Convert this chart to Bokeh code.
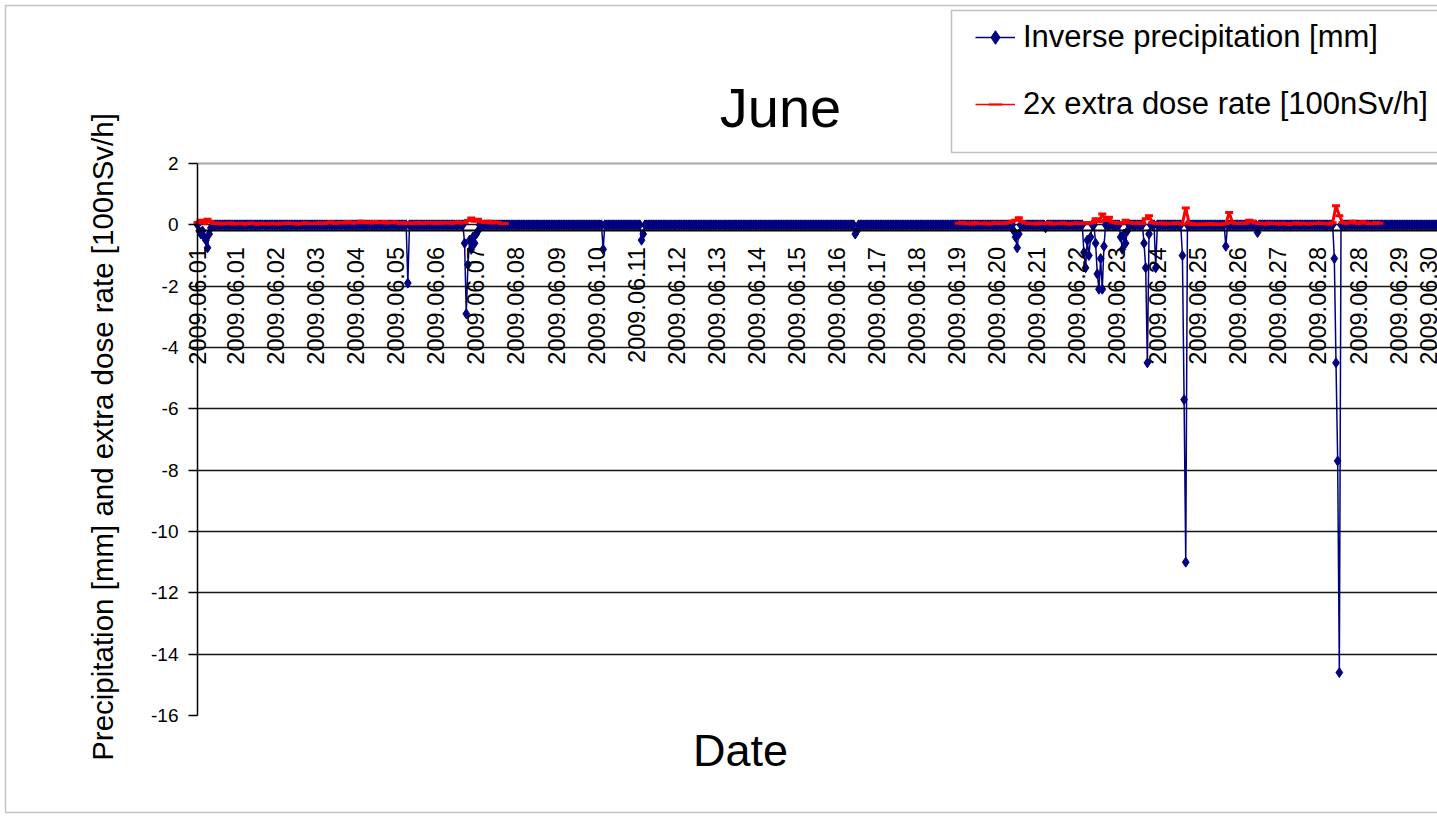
import math

from bokeh.embed import file_html
from bokeh.models import (BoxAnnotation, ColumnDataSource, FixedTicker, Grid, Label,
                          Legend, LegendItem, LinearAxis, Range1d)
from bokeh.plotting import figure
from bokeh.resources import INLINE

FONT = "Liberation Sans"
NAVY = "#000080"
RED = "#ff0000"

# ---------------------------------------------------------------- data
# x positions are in days from 2009.06.01 00:00 along the category axis
tick_days = [0.00, 0.95, 1.95, 2.95, 3.95, 4.95, 5.95, 6.95, 7.95, 8.95, 9.95,
             10.95, 11.95, 12.95, 13.95, 14.95, 15.95, 16.95, 17.95, 18.95, 19.95,
             20.95, 21.95, 22.95, 23.95, 24.95, 25.95, 26.95, 27.95, 28.97, 29.97,
             30.94]
tick_labels = ["2009.06.01", "2009.06.01", "2009.06.02", "2009.06.03", "2009.06.04",
               "2009.06.05", "2009.06.06", "2009.06.07", "2009.06.08", "2009.06.09",
               "2009.06.10", "2009.06.11", "2009.06.12", "2009.06.13", "2009.06.14",
               "2009.06.15", "2009.06.16", "2009.06.17", "2009.06.18", "2009.06.19",
               "2009.06.20", "2009.06.21", "2009.06.22", "2009.06.23", "2009.06.24",
               "2009.06.25", "2009.06.26", "2009.06.27", "2009.06.28", "2009.06.28",
               "2009.06.29", "2009.06.30"]

y_ticks = [2, 0, -2, -4, -6, -8, -10, -12, -14, -16]
grid_ticks = [0, -2, -4, -6, -8, -10, -12, -14]

# hourly precipitation (sign inverted); every hour not listed below is 0 mm
n_hours = 744
rain_hours = [1, 2, 3, 4, 5, 6, 7, 8,
              126,
              160, 161, 162, 163, 164, 165, 166, 167, 168,
              243, 266, 267, 394, 395,
              489, 490, 491, 492, 508,
              531, 532, 533, 534, 535,
              538, 539, 540, 541, 542, 543,
              553, 554, 555, 556, 557,
              567, 568, 569, 570, 574,
              590, 591, 592,
              616, 635,
              681, 682, 683, 684]
rain_values = [-0.2, -0.3, -0.2, -0.4, -0.5, -0.75, -0.3, -0.1,
               -1.9,
               -0.6, -2.9, -1.3, -0.5, -0.8, -0.4, -0.6, -0.3, -0.2,
               -0.8, -0.5, -0.3, -0.3, -0.2,
               -0.2, -0.4, -0.75, -0.3, -0.1,
               -0.9, -1.4, -0.5, -1.0, -0.4,
               -0.6, -1.6, -2.1, -1.1, -2.1, -0.7,
               -0.4, -0.8, -0.3, -0.6, -0.2,
               -0.6, -1.4, -4.5, -0.3, -1.4,
               -1.0, -5.7, -11.0,
               -0.7, -0.25,
               -1.1, -4.5, -7.7, -14.6]

# 2x extra dose rate, one reading every 2 hours, two recording periods
dose_step_days = 1 / 12
dose_start_1 = 0.0
dose_1 = [0.08, 0.15, 0.05, 0.18, 0.10, 0.04, 0.06, 0.03, 0.05, 0.04, 0.06, 0.03,
          0.04, 0.05, 0.03, 0.04, 0.06, 0.04, 0.03, 0.05, 0.04, 0.03, 0.05, 0.04,
          0.03, 0.05, 0.04, 0.06, 0.04, 0.05, 0.03, 0.04, 0.06, 0.05, 0.04, 0.05,
          0.05, 0.06, 0.04, 0.07, 0.09, 0.05, 0.06, 0.08, 0.06, 0.10, 0.07, 0.06,
          0.08, 0.12, 0.07, 0.09, 0.06, 0.11, 0.08, 0.07, 0.10, 0.06, 0.08, 0.09,
          0.06, 0.05, 0.07, 0.04, 0.06, 0.05, 0.07, 0.06, 0.05, 0.08, 0.06, 0.07,
          0.05, 0.07, 0.06, 0.08, 0.05, 0.07, 0.09, 0.06, 0.08, 0.14, 0.22, 0.12,
          0.18, 0.10, 0.08, 0.12, 0.06, 0.09, 0.07, 0.05, 0.04]
dose_start_2 = 19.0
dose_2 = [0.05, 0.08, 0.04, 0.06, 0.03, 0.07, 0.05, 0.04, 0.06, 0.03, 0.05, 0.07,
          0.04, 0.06, 0.05, 0.08, 0.12, 0.15, 0.23, 0.10, 0.06, 0.04, 0.05, 0.03,
          0.06, 0.04, 0.05, 0.07, 0.03, 0.05, 0.04, 0.06, 0.05, 0.03, 0.04, 0.06,
          0.05, 0.04, 0.07, 0.05, 0.08, 0.20, 0.10, 0.35, 0.14, 0.25, 0.09, 0.06,
          0.07, 0.05, 0.15, 0.08, 0.06, 0.05, 0.07, 0.04, 0.20, 0.30, 0.08, 0.05,
          0.04, 0.06, 0.03, 0.05, 0.04, 0.06, 0.05, 0.03, 0.55, 0.06, 0.02, 0.03,
          0.01, 0.03, 0.02, 0.04, 0.02, 0.03, 0.01, 0.03, 0.04, 0.40, 0.08, 0.05,
          0.04, 0.06, 0.05, 0.15, 0.12, 0.06, 0.04, 0.05, 0.03, 0.06, 0.04, 0.05,
          0.03, 0.05, 0.04, 0.02, 0.04, 0.06, 0.03, 0.05, 0.04, 0.03, 0.05, 0.04,
          0.06, 0.04, 0.05, 0.03, 0.07, 0.62, 0.30, 0.08, 0.05, 0.07, 0.12, 0.06,
          0.05, 0.10, 0.06, 0.04, 0.05, 0.07, 0.05]

# ---------------------------------------------------------------- series
precip = [0.0] * n_hours
for h, v in zip(rain_hours, rain_values):
    precip[h] = v
rain_src = ColumnDataSource(dict(x=[h / 24 for h in range(n_hours)], y=precip))

dose_x = [dose_start_1 + i * dose_step_days for i in range(len(dose_1))] + [float("nan")] + \
         [dose_start_2 + i * dose_step_days for i in range(len(dose_2))]
dose_y = dose_1 + [float("nan")] + dose_2
dose_src = ColumnDataSource(dict(x=dose_x, y=dose_y))

# ---------------------------------------------------------------- geometry
W, H = 1437, 817
PLOT_LEFT, PLOT_TOP, PLOT_BOTTOM = 197, 163, 715     # plot area in page pixels
X_END = 30.95                                         # days shown up to the right edge
Y_TOP, Y_BOTTOM = 2, -16

px_per_day = (W - PLOT_LEFT) / X_END
px_per_unit = (PLOT_BOTTOM - PLOT_TOP) / (Y_TOP - Y_BOTTOM)
x_start = -PLOT_LEFT / px_per_day
y_end = Y_TOP + PLOT_TOP / px_per_unit
y_start = Y_BOTTOM - (H - PLOT_BOTTOM) / px_per_unit


def sy(page_y):
    """screen-unit y (measured up from the bottom edge) for a page pixel row"""
    return H - page_y


# the frame fills the whole page so titles, legend and border can sit anywhere
p = figure(width=W, height=H, output_backend="svg", toolbar_location=None,
           x_range=Range1d(x_start, X_END), y_range=Range1d(y_start, y_end),
           x_axis_type=None, y_axis_type=None,
           min_border_left=0, min_border_right=0, min_border_top=0, min_border_bottom=0,
           background_fill_color="white", border_fill_color="white",
           outline_line_color=None)

grid_style = dict(grid_line_color="#151515", grid_line_width=1.5)
top_style = dict(grid_line_color="#a8a8a8", grid_line_width=2)
if "cross_bounds" in Grid.properties():
    p.add_layout(Grid(dimension=1, ticker=FixedTicker(ticks=grid_ticks),
                      cross_bounds=(0, X_END), **grid_style))
    p.add_layout(Grid(dimension=1, ticker=FixedTicker(ticks=[Y_TOP]),
                      cross_bounds=(0, X_END), **top_style))
else:
    p.segment(x0=0, x1=X_END, y0=grid_ticks, y1=grid_ticks,
              line_color=grid_style["grid_line_color"], line_width=1.5)
    p.segment(x0=0, x1=X_END, y0=Y_TOP, y1=Y_TOP,
              line_color=top_style["grid_line_color"], line_width=2)

p.line("x", "y", source=rain_src, line_color=NAVY, line_width=1.5)
p.scatter("x", "y", source=rain_src, marker="diamond", size=10,
          fill_color=NAVY, line_color=NAVY)
p.line("x", "y", source=dose_src, line_color=RED, line_width=3)
p.scatter("x", "y", source=dose_src, marker="dash", size=8, line_color=RED, line_width=3)

# legend swatches with the thinner legend styling; their single point is
# undefined, so they draw nothing inside the plot area
swatch = ColumnDataSource(dict(x=[float("nan")], y=[float("nan")]))
leg_bl = p.line("x", "y", source=swatch, line_color=NAVY, line_width=1.3)
leg_bm = p.scatter("x", "y", source=swatch, marker="diamond", size=8,
                   fill_color=NAVY, line_color=NAVY)
leg_rl = p.line("x", "y", source=swatch, line_color=RED, line_width=1.3)
leg_rm = p.scatter("x", "y", source=swatch, marker="dash", size=5,
                   line_color=RED, line_width=2)

yaxis = LinearAxis(ticker=FixedTicker(ticks=y_ticks), fixed_location=0,
                   bounds=(Y_BOTTOM, Y_TOP),
                   axis_line_color="black", axis_line_width=1.5,
                   major_tick_out=9, major_tick_in=0,
                   major_tick_line_color="black", major_tick_line_width=1.5,
                   minor_tick_out=0, minor_tick_in=0,
                   major_label_standoff=10,
                   major_label_text_font=FONT, major_label_text_font_size="19px",
                   major_label_text_color="black",
                   major_label_overrides={t: str(t) for t in y_ticks})
p.add_layout(yaxis, "left")

xaxis = LinearAxis(ticker=FixedTicker(ticks=tick_days), fixed_location=-0.17,
                   bounds=(0, X_END),
                   axis_line_color="black", axis_line_width=2,
                   major_tick_out=0, major_tick_in=0, minor_tick_out=0, minor_tick_in=0,
                   major_label_orientation=math.pi / 2, major_label_standoff=17,
                   major_label_text_font=FONT, major_label_text_font_size="23.5px",
                   major_label_text_color="black",
                   major_label_overrides=dict(zip(tick_days, tick_labels)))
p.add_layout(xaxis, "below")

# chart border and legend box
box_units = dict(left_units="screen", right_units="screen",
                 top_units="screen", bottom_units="screen")
p.add_layout(BoxAnnotation(left=5, right=W + 100, top=sy(5), bottom=sy(812), **box_units,
                           fill_color=None, line_color="#404040", line_width=1.5))
p.add_layout(BoxAnnotation(left=951, right=W + 100, top=sy(10), bottom=sy(152), **box_units,
                           fill_color=None, line_color="#303030", line_width=1.5))

legend = Legend(items=[LegendItem(label="Inverse precipitation [mm]", renderers=[leg_bl, leg_bm]),
                       LegendItem(label="2x extra dose rate [100nSv/h]", renderers=[leg_rl, leg_rm])],
                location=(975, sy(122)), orientation="vertical", padding=0, margin=0,
                spacing=31, glyph_width=40, glyph_height=34, label_height=34,
                label_standoff=8, label_text_font=FONT, label_text_font_size="31px",
                label_text_color="black", border_line_alpha=0, background_fill_alpha=0)
p.add_layout(legend)

p.add_layout(Label(x=780, y=sy(107), x_units="screen", y_units="screen", text="June",
                   text_align="center", text_baseline="alphabetic",
                   text_font=FONT, text_font_size="56px", text_color="black"))
p.add_layout(Label(x=740, y=sy(750), x_units="screen", y_units="screen", text="Date",
                   text_align="center", text_baseline="alphabetic",
                   text_font=FONT, text_font_size="45px", text_color="black"))
p.add_layout(Label(x=102, y=sy(436.5), x_units="screen", y_units="screen", angle=math.pi / 2,
                   text="Precipitation [mm] and extra dose rate [100nSv/h]",
                   text_align="center", text_baseline="alphabetic",
                   text_font=FONT, text_font_size="29.5px", text_color="black"))

open("out.html", "w").write(file_html(p, INLINE))
